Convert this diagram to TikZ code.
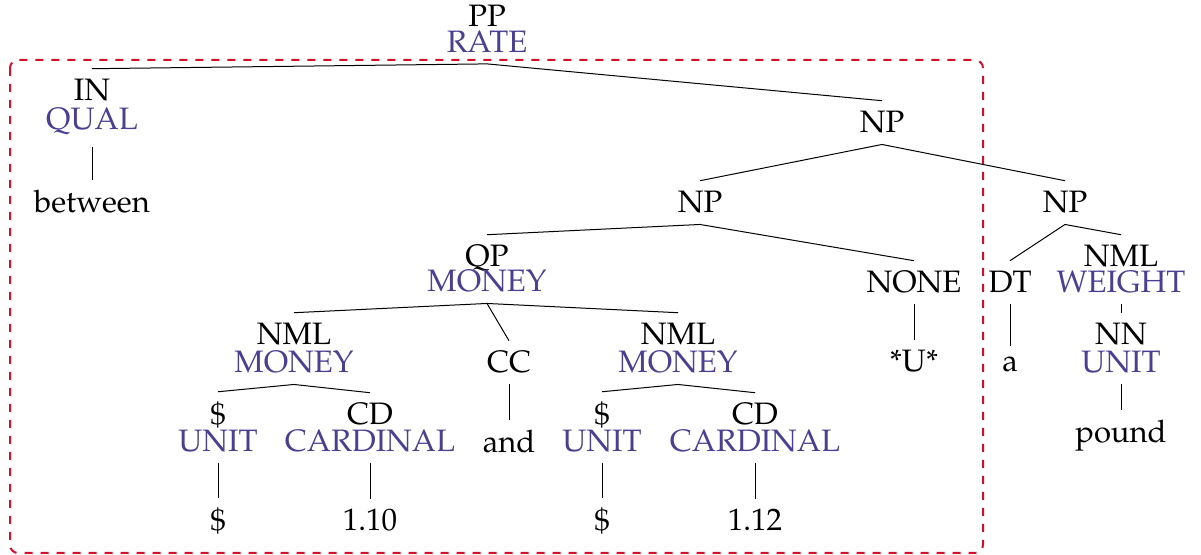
\documentclass[tikz,border=0pt]{standalone}
\usepackage[T1]{fontenc}
\usepackage{mathpazo}
\definecolor{rolecol}{RGB}{74,64,145}
\definecolor{spancol}{RGB}{210,16,44}
\begin{document}
\begin{tikzpicture}[x=0.5pt,y=-0.5pt,
  font=\fontsize{15.5}{18}\selectfont,
  every node/.style={anchor=base,inner xsep=0.5pt,inner ysep=5.2pt},
  cat/.style={text=black},
  role/.style={text=rolecol},
  word/.style={text=black},
  branch/.style={draw=black,line width=0.5pt},
  spanbox/.style={draw=spancol,line width=1pt,dash pattern=on 4pt off 4pt,rounded corners=4pt}]
\useasboundingbox (0,0) rectangle (1201,555);

% highlighted span
\draw[spanbox] (10,60) rectangle (983,553);

% labels: category above, semantic role below
\node[cat]  (pp)    at (487,27)  {PP};
\node[role] (ppR)   at (487,53)  {RATE};
\node[cat]  (in)    at (92,101)  {IN};
\node[role] (inR)   at (92,130)  {QUAL};
\node[word] (wbtw)  at (92,213)  {between};
\node[cat]  (np1)   at (882,133) {NP};
\node[cat]  (np2)   at (700,213) {NP};
\node[cat]  (np3)   at (1065,213) {NP};
\node[cat]  (qp)    at (487,267) {QP};
\node[role] (qpR)   at (487,292) {MONEY};
\node[cat]  (none)  at (914,293) {NONE};
\node[word] (wU)    at (914,372) {*U*};
\node[cat]  (dt)    at (1010,293) {DT};
\node[word] (wa)    at (1010,372) {a};
\node[cat]  (nmlw)  at (1121,267) {NML};
\node[role] (nmlwR) at (1121,293) {WEIGHT};
\node[cat]  (nn)    at (1121,345) {NN};
\node[role] (nnR)   at (1121,373) {UNIT};
\node[word] (wpnd)  at (1121,443) {pound};
\node[cat]  (nmlA)  at (294,345) {NML};
\node[role] (nmlAR) at (294,373) {MONEY};
\node[cat]  (cc)    at (509,373) {CC};
\node[word] (wand)  at (509,453) {and};
\node[cat]  (nmlB)  at (678,345) {NML};
\node[role] (nmlBR) at (678,373) {MONEY};
\node[cat]  (dA)    at (218,425) {\$};
\node[role] (dAR)   at (218,452) {UNIT};
\node[word] (wdA)   at (218,531) {\$};
\node[cat]  (cdA)   at (370,425) {CD};
\node[role] (cdAR)  at (370,452) {CARDINAL};
\node[word] (w110)  at (370,531) {1.10};
\node[cat]  (dB)    at (602,425) {\$};
\node[role] (dBR)   at (602,452) {UNIT};
\node[word] (wdB)   at (602,531) {\$};
\node[cat]  (cdB)   at (755,425) {CD};
\node[role] (cdBR)  at (755,452) {CARDINAL};
\node[word] (w112)  at (755,531) {1.12};

% branches
\draw[branch] (ppR.south) -- (in.north);
\draw[branch] (ppR.south) -- (np1.north);
\draw[branch] (inR.south) -- (wbtw.north);
\draw[branch] (np1.south) -- (np2.north);
\draw[branch] (np1.south) -- (np3.north);
\draw[branch] (np2.south) -- (qp.north);
\draw[branch] (np2.south) -- (none.north);
\draw[branch] (np3.south) -- (dt.north);
\draw[branch] (np3.south) -- (nmlw.north);
\draw[branch] (qpR.south) -- (nmlA.north);
\draw[branch] (qpR.south) -- (cc.north);
\draw[branch] (qpR.south) -- (nmlB.north);
\draw[branch] (none.south) -- (wU.north);
\draw[branch] (dt.south) -- (wa.north);
\draw[branch] (nmlwR.south) -- (nn.north);
\draw[branch] (nnR.south) -- (wpnd.north);
\draw[branch] (nmlAR.south) -- (dA.north);
\draw[branch] (nmlAR.south) -- (cdA.north);
\draw[branch] (cc.south) -- (wand.north);
\draw[branch] (nmlBR.south) -- (dB.north);
\draw[branch] (nmlBR.south) -- (cdB.north);
\draw[branch] (dAR.south) -- (wdA.north);
\draw[branch] (cdAR.south) -- (w110.north);
\draw[branch] (dBR.south) -- (wdB.north);
\draw[branch] (cdBR.south) -- (w112.north);
\end{tikzpicture}
\end{document}
